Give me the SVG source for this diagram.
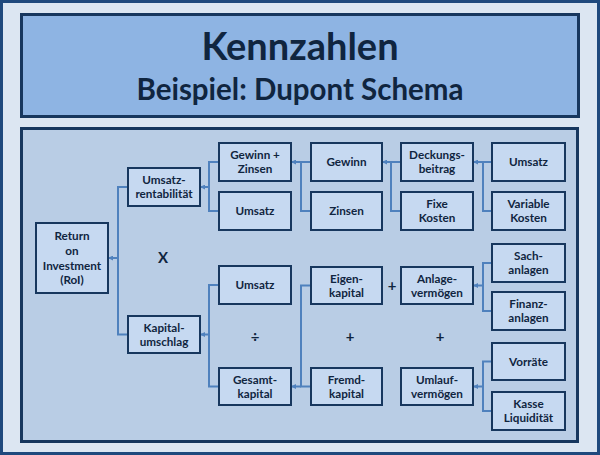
<svg xmlns="http://www.w3.org/2000/svg" width="600" height="455" viewBox="0 0 600 455">
<defs>
<style>
.node rect{fill:#c6d9f1;stroke:#17375e;stroke-width:2}
.node text,.op{font-family:Lato,"Open Sans","Liberation Sans",sans-serif;font-weight:bold;font-size:11.7px;fill:#10253f;text-anchor:middle}
.op{font-size:15px}
.title{font-family:Lato,"Open Sans","Liberation Sans",sans-serif;font-weight:bold;fill:#10253f;text-anchor:middle}
#connectors path,#connectors line{fill:none;stroke:#4f81bd;stroke-width:2}
</style>
<marker id="arr" markerUnits="userSpaceOnUse" markerWidth="5" markerHeight="5" refX="5" refY="2.5" orient="auto">
<path d="M0,0 L5,2.5 L0,5 z" fill="#4f81bd"/>
</marker>
</defs>
<rect x="1.5" y="1.5" width="597" height="452" fill="#dce6f2" stroke="#1f497d" stroke-width="3"/>
<g id="header">
<rect x="21.5" y="14.5" width="557" height="102" fill="#8eb4e3" stroke="#17375e" stroke-width="3"/>
<text class="title" x="300" y="60" font-size="38">Kennzahlen</text>
<text class="title" x="300" y="100" font-size="29.5">Beispiel: Dupont Schema</text>
</g>
<rect id="panel" x="21.5" y="128.5" width="556" height="313" fill="#b9cde5" stroke="#17375e" stroke-width="3"/>
<g id="connectors">
<path d="M128,187 H118 V334.5 H128"/><line x1="118" y1="258" x2="108" y2="258" marker-end="url(#arr)"/>
<path d="M219,162 H209 V211 H219"/><line x1="209" y1="187" x2="200" y2="187" marker-end="url(#arr)"/>
<path d="M219,285 H209 V386.5 H219"/><line x1="209" y1="334.5" x2="200" y2="334.5" marker-end="url(#arr)"/>
<path d="M311,162 H301 V211 H311"/><line x1="301" y1="162" x2="291" y2="162" marker-end="url(#arr)"/>
<path d="M311,285.5 H301 V386.5 H311"/><line x1="301" y1="386.5" x2="291" y2="386.5" marker-end="url(#arr)"/>
<path d="M401,162 H391 V211 H401"/><line x1="391" y1="162" x2="382" y2="162" marker-end="url(#arr)"/>
<path d="M492,162 H483 V211 H492"/><line x1="483" y1="162" x2="473" y2="162" marker-end="url(#arr)"/>
<path d="M492,263 H483 V311 H492"/><line x1="483" y1="285.5" x2="473" y2="285.5" marker-end="url(#arr)"/>
<path d="M492,361.5 H483 V411 H492"/><line x1="483" y1="386.5" x2="473" y2="386.5" marker-end="url(#arr)"/>
</g>
<g id="roi" class="node"><rect x="36" y="223" width="72" height="70"/><text x="72" y="240">Return</text><text x="72" y="255">on</text><text x="72" y="269.5">Investment</text><text x="72" y="284">(RoI)</text></g>
<g id="umsatzrentabilitaet" class="node"><rect x="128" y="168" width="72" height="38"/><text x="164" y="184">Umsatz-</text><text x="164" y="198">rentabilität</text></g>
<g id="kapitalumschlag" class="node"><rect x="128" y="316" width="72" height="37"/><text x="164" y="331.5">Kapital-</text><text x="164" y="345.5">umschlag</text></g>
<g id="gewinn-zinsen" class="node"><rect x="219" y="143" width="72" height="38"/><text x="255" y="159">Gewinn +</text><text x="255" y="173">Zinsen</text></g>
<g id="umsatz-1" class="node"><rect x="219" y="192" width="72" height="38"/><text x="255" y="215">Umsatz</text></g>
<g id="umsatz-2" class="node"><rect x="219" y="266" width="72" height="38"/><text x="255" y="289">Umsatz</text></g>
<g id="gesamtkapital" class="node"><rect x="219" y="368" width="72" height="37"/><text x="255" y="383.5">Gesamt-</text><text x="255" y="397.5">kapital</text></g>
<g id="gewinn" class="node"><rect x="311" y="143" width="71" height="38"/><text x="346.5" y="166">Gewinn</text></g>
<g id="zinsen" class="node"><rect x="311" y="192" width="71" height="38"/><text x="346.5" y="215">Zinsen</text></g>
<g id="eigenkapital" class="node"><rect x="311" y="267" width="71" height="37"/><text x="346.5" y="282.5">Eigen-</text><text x="346.5" y="296.5">kapital</text></g>
<g id="fremdkapital" class="node"><rect x="311" y="368" width="71" height="37"/><text x="346.5" y="383.5">Fremd-</text><text x="346.5" y="397.5">kapital</text></g>
<g id="deckungsbeitrag" class="node"><rect x="401" y="143" width="72" height="38"/><text x="437" y="159">Deckungs-</text><text x="437" y="173">beitrag</text></g>
<g id="fixe-kosten" class="node"><rect x="401" y="192" width="72" height="38"/><text x="437" y="208">Fixe</text><text x="437" y="222">Kosten</text></g>
<g id="anlagevermoegen" class="node"><rect x="401" y="267" width="72" height="37"/><text x="437" y="282.5">Anlage-</text><text x="437" y="296.5">vermögen</text></g>
<g id="umlaufvermoegen" class="node"><rect x="401" y="368" width="72" height="37"/><text x="437" y="383.5">Umlauf-</text><text x="437" y="397.5">vermögen</text></g>
<g id="umsatz-3" class="node"><rect x="492" y="143" width="73" height="38"/><text x="528.5" y="166">Umsatz</text></g>
<g id="variable-kosten" class="node"><rect x="492" y="192" width="73" height="38"/><text x="528.5" y="208">Variable</text><text x="528.5" y="222">Kosten</text></g>
<g id="sachanlagen" class="node"><rect x="492" y="244" width="73" height="38"/><text x="528.5" y="260">Sach-</text><text x="528.5" y="274">anlagen</text></g>
<g id="finanzanlagen" class="node"><rect x="492" y="292" width="73" height="38"/><text x="528.5" y="308">Finanz-</text><text x="528.5" y="322">anlagen</text></g>
<g id="vorraete" class="node"><rect x="492" y="343" width="73" height="37"/><text x="528.5" y="365.5">Vorräte</text></g>
<g id="kasse-liquiditaet" class="node"><rect x="492" y="392" width="73" height="38"/><text x="528.5" y="408">Kasse</text><text x="528.5" y="422">Liquidität</text></g>
<g id="operators">
<text class="op" x="163" y="263">X</text>
<text class="op" x="255" y="342">÷</text>
<text class="op" x="392" y="290.5">+</text>
<text class="op" x="350" y="341.5">+</text>
<text class="op" x="440" y="341.5">+</text>
</g>
</svg>
